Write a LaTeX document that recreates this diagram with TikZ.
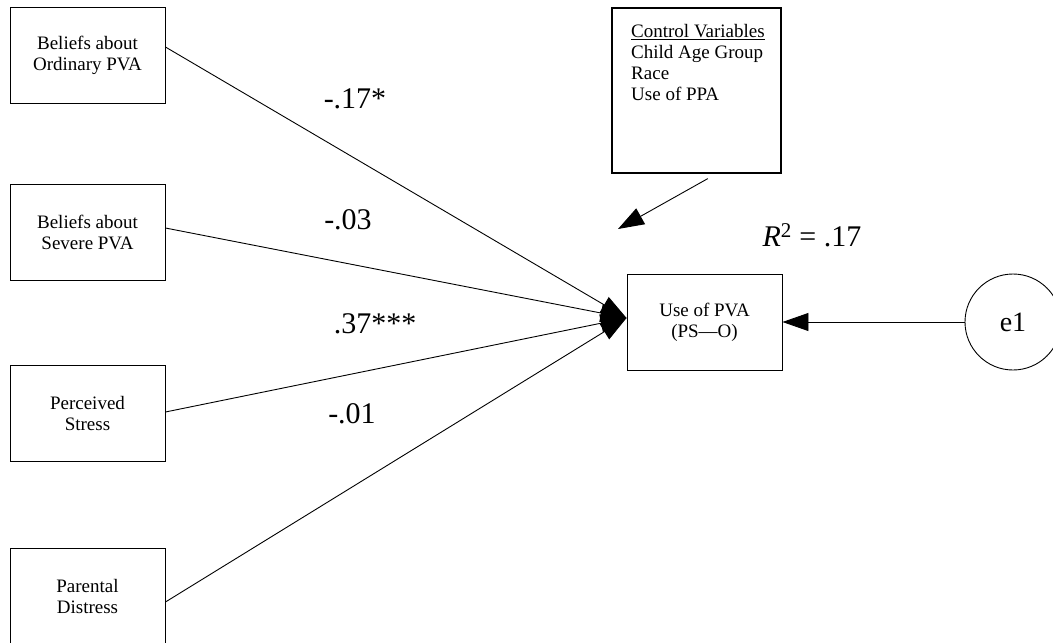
\documentclass[tikz,border=0pt]{standalone}
\usepackage{fontspec}
\setmainfont{Liberation Serif}
\usetikzlibrary{arrows.meta,calc}
\begin{document}
\begin{tikzpicture}[x=1pt,y=-1pt,
  var/.style={draw,line width=0.9pt,minimum width=155pt,minimum height=96pt,
    inner sep=0pt,align=center,font=\fontsize{19}{21}\selectfont},
  regpath/.style={line width=0.9pt,-{Triangle[length=26pt,width=18pt]}},
  coef/.style={font=\fontsize{30}{34}\selectfont,inner sep=0pt}]
\useasboundingbox (0,0) rectangle (1053,643);
\clip (0,0) rectangle (1053,643);

% predictors
\node[var] (ord) at (87.5,55)  {Beliefs about\\Ordinary PVA};
\node[var] (sev) at (87.5,232) {Beliefs about\\Severe PVA};
\node[var] (str) at (87.5,413) {Perceived\\Stress};
\node[var] (dis) at (87.5,596) {Parental\\Distress};

% outcome and error term
\node[var] (pva) at (704.5,322) {Use of PVA\\(PS—O)};
\node[draw,circle,minimum size=96pt,inner sep=0pt,line width=0.9pt,
  font=\fontsize{28}{32}\selectfont] (e1) at (1013,322) {e1};

% control variables box
\node[draw,line width=1.6pt,anchor=north west,minimum width=169pt,
  minimum height=165pt,inner sep=0pt] (ctrl) at (611,7) {};
\node[anchor=north west,align=left,inner sep=0pt,
  font=\fontsize{19}{21}\selectfont] (ctrltext) at (631,24)
  {\underline{Control Variables}\\Child Age Group\\Race\\Use of PPA};

% regression paths
\coordinate (tip) at ($(pva.west)+(0,-4)$);
\draw[regpath] ($(ord.east)+(0,-8)$) -- (tip);
\draw[regpath] ($(sev.east)+(0,-4)$) -- (tip);
\draw[regpath] ($(str.east)+(0,-1)$) -- (tip);
\draw[regpath] ($(dis.east)+(0,6)$) -- (tip);
\draw[regpath] (e1.west) -- (pva.east);

\coordinate (ctrlend) at (618,229);
\draw[regpath] ($(ctrl.south)+(11.5,5)$) -- (ctrlend);

% coefficients
\node[coef] (c1) at (355,99)  {-.17*};
\node[coef] (c2) at (348,220) {-.03};
\node[coef] (c3) at (375,324) {.37***};
\node[coef] (c4) at (352,414) {-.01};
\node[coef] (r2) at (812,235) {\textit{R}\textsuperscript{2} = .17};
\end{tikzpicture}
\end{document}
